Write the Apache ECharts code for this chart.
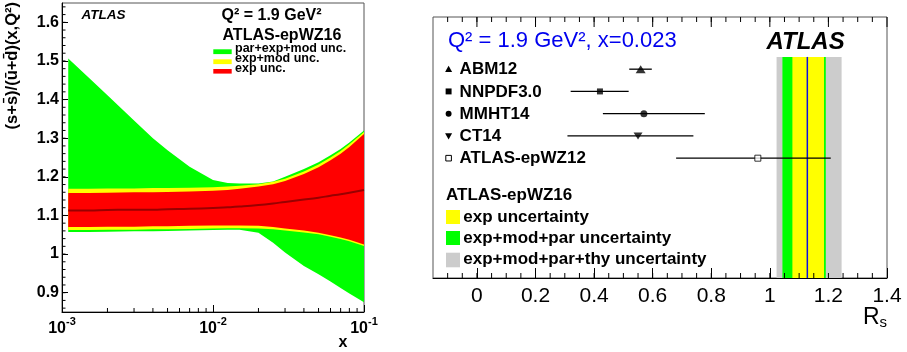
<!DOCTYPE html>
<html>
<head>
<meta charset="utf-8">
<script src="https://cdn.jsdelivr.net/npm/echarts@6/dist/echarts.min.js"></script>
<style>
  html, body { margin: 0; padding: 0; background: #fff; }
  #chart { width: 907px; height: 352px; }
</style>
</head>
<body>
<div id="chart"></div>
<script>
// ---- Left panel: (s+sbar)/(ubar+dbar) vs x at Q^2 = 1.9 GeV^2 ----
const xGrid    = [0.0011, 0.0015, 0.002, 0.003, 0.004, 0.005, 0.007, 0.01, 0.0125, 0.015, 0.02, 0.025, 0.03, 0.04, 0.05, 0.06, 0.07, 0.08, 0.1];
const central  = [1.113, 1.113, 1.114, 1.115, 1.115, 1.116, 1.117, 1.119, 1.121, 1.123, 1.127, 1.131, 1.135, 1.141, 1.146, 1.151, 1.155, 1.159, 1.166];
const expHi    = [1.158, 1.158, 1.159, 1.160, 1.160, 1.161, 1.162, 1.164, 1.166, 1.169, 1.175, 1.181, 1.189, 1.207, 1.225, 1.243, 1.260, 1.277, 1.311];
const expLo    = [1.070, 1.070, 1.071, 1.071, 1.072, 1.072, 1.073, 1.074, 1.074, 1.074, 1.073, 1.070, 1.066, 1.061, 1.055, 1.049, 1.043, 1.037, 1.025];
const expModHi = [1.169, 1.169, 1.170, 1.170, 1.171, 1.171, 1.172, 1.173, 1.175, 1.177, 1.181, 1.187, 1.195, 1.214, 1.232, 1.250, 1.267, 1.284, 1.316];
const expModLo = [1.062, 1.062, 1.063, 1.063, 1.064, 1.064, 1.065, 1.066, 1.067, 1.067, 1.066, 1.064, 1.061, 1.056, 1.051, 1.045, 1.039, 1.033, 1.021];
const fullHi   = [1.506, 1.457, 1.411, 1.346, 1.300, 1.269, 1.226, 1.192, 1.184, 1.183, 1.183, 1.188, 1.200, 1.220, 1.238, 1.256, 1.272, 1.289, 1.320];
const fullLo   = [1.057, 1.057, 1.058, 1.059, 1.059, 1.060, 1.061, 1.062, 1.063, 1.063, 1.055, 1.029, 1.004, 0.969, 0.948, 0.929, 0.912, 0.898, 0.875];

const leftYTicks = [0.9, 1, 1.1, 1.2, 1.3, 1.4, 1.5, 1.6];

// ---- Right panel: R_s at x = 0.023 ----
const pdfSets   = ['ABM12', 'NNPDF3.0', 'MMHT14', 'CT14', 'ATLAS-epWZ12'];
const rsCentral = [0.559, 0.420, 0.570, 0.550, 0.959];
const rsLow     = [0.520, 0.320, 0.430, 0.309, 0.680];
const rsHigh    = [0.597, 0.518, 0.778, 0.739, 1.208];

const epwz16Central   = 1.128;
const epwz16Exp       = [1.077, 1.185];
const epwz16ExpModPar = [1.043, 1.191];
const epwz16Total     = [1.023, 1.245];

const rightXTicks = [0, 0.2, 0.4, 0.6, 0.8, 1, 1.2, 1.4];

// ---- axis helpers ----
const FONT = '"Liberation Sans", Arial, Helvetica, sans-serif';
const LEFT_Y = [0.85, 1.65];
const RIGHT_X = [-0.15, 1.4];
const RIGHT_Y = [-2.345, 9.385];

const leftYMinor = [];
for (let k = 43; k <= 82; k++) leftYMinor.push(+(k * 0.02).toFixed(2));
const logMinor = [];
[0.001, 0.01].forEach(d => { for (let k = 2; k <= 9; k++) logMinor.push(+(k * d).toPrecision(3)); });
const rightXMinor = [];
for (let k = -2; k <= 27; k++) rightXMinor.push(+(k * 0.05).toFixed(2));

function band(hi, lo, color, z) {
  return {
    type: 'custom', xAxisIndex: 0, yAxisIndex: 0, z: z, silent: true,
    data: [[xGrid[0], central[0]]],
    renderItem: function (params, api) {
      const pts = [];
      for (let i = 0; i < xGrid.length; i++) pts.push(api.coord([xGrid[i], hi[i]]));
      for (let i = xGrid.length - 1; i >= 0; i--) pts.push(api.coord([xGrid[i], lo[i]]));
      return { type: 'polygon', shape: { points: pts }, style: { fill: color } };
    }
  };
}

function vband(range, color, z) {
  return {
    type: 'custom', xAxisIndex: 1, yAxisIndex: 1, z: z, silent: true,
    data: [[range[0], 0]],
    renderItem: function (params, api) {
      const a = api.coord([range[0], -0.55]);
      const b = api.coord([range[1], RIGHT_Y[1]]);
      return { type: 'rect', shape: { x: a[0], y: a[1], width: b[0] - a[0], height: b[1] - a[1] }, style: { fill: color } };
    }
  };
}

// short tick strokes placed through the axis scales
function tickLine(p, dx, dy) {
  return { type: 'line', shape: { x1: p[0], y1: p[1], x2: p[0] + dx, y2: p[1] + dy }, style: { stroke: '#000', lineWidth: 1 } };
}

function markerShape(i, cx, cy, s) {
  const h = s / 2;
  const black = { fill: '#000' };
  switch (i) {
    case 0: return { type: 'polygon', shape: { points: [[cx, cy - h], [cx - h, cy + h * 0.8], [cx + h, cy + h * 0.8]] }, style: black };
    case 1: return { type: 'rect', shape: { x: cx - h * 0.85, y: cy - h * 0.85, width: s * 0.85, height: s * 0.85 }, style: black };
    case 2: return { type: 'circle', shape: { cx: cx, cy: cy, r: h * 0.85 }, style: black };
    case 3: return { type: 'polygon', shape: { points: [[cx, cy + h], [cx - h, cy - h * 0.8], [cx + h, cy - h * 0.8]] }, style: black };
    default: return { type: 'rect', shape: { x: cx - h * 0.8, y: cy - h * 0.8, width: s * 0.8, height: s * 0.8 }, style: { fill: '#fff', stroke: '#000', lineWidth: 1 } };
  }
}

const plotSymbols = [
  { symbol: 'triangle', symbolSize: [10, 8], symbolRotate: 0, itemStyle: { color: '#000' } },
  { symbol: 'rect', symbolSize: 6, symbolRotate: 0, itemStyle: { color: '#000' } },
  { symbol: 'circle', symbolSize: 7, symbolRotate: 0, itemStyle: { color: '#000' } },
  { symbol: 'triangle', symbolSize: [9, 7], symbolRotate: 180, itemStyle: { color: '#000' } },
  { symbol: 'rect', symbolSize: 6, symbolRotate: 0, itemStyle: { color: '#fff', borderColor: '#000', borderWidth: 1 } }
];

function txt(x, y, text, font, extra) {
  return Object.assign({
    type: 'text', x: x, y: y, silent: true,
    style: { text: text, font: font, fill: '#000', align: 'left', verticalAlign: 'middle', textAlign: 'left', textVerticalAlign: 'middle' }
  }, extra || {});
}
function box(x, y, w, h, color) {
  return { type: 'rect', silent: true, shape: { x: x, y: y, width: w, height: h }, style: { fill: color } };
}

const chart = echarts.init(document.getElementById('chart'));
chart.setOption({
  animation: false,
  backgroundColor: '#fff',
  textStyle: { fontFamily: FONT },
  grid: [
    { left: 62, top: 3, width: 302, height: 309, show: true, borderColor: '#555', borderWidth: 1, backgroundColor: 'transparent' },
    { left: 433, top: 17, width: 454, height: 261, show: true, borderColor: '#555', borderWidth: 1, backgroundColor: 'transparent' }
  ],
  xAxis: [
    { // 0: log x, left panel
      gridIndex: 0, type: 'log', logBase: 10, min: 0.001, max: 0.1,
      axisLine: { onZero: false, lineStyle: { color: '#000', width: 1 } },
      axisTick: { inside: true, length: 7, lineStyle: { color: '#000' } },
      splitLine: { show: false }, minorTick: { show: false },
      axisLabel: {
        margin: 4, color: '#000',
        formatter: v => '{b|10}{s|' + Math.round(Math.log10(v)) + '}',
        rich: {
          b: { fontFamily: FONT, fontSize: 16, fontWeight: 'bold', color: '#000' },
          s: { fontFamily: FONT, fontSize: 11, fontWeight: 'bold', color: '#000', padding: [0, 0, 14, 0] }
        }
      }
    },
    { // 1: R_s axis
      gridIndex: 1, type: 'value', min: RIGHT_X[0], max: RIGHT_X[1], position: 'bottom',
      axisLine: { onZero: false, lineStyle: { color: '#000', width: 1 } },
      axisTick: { inside: true, length: 10, customValues: rightXTicks, lineStyle: { color: '#000' } },
      axisLabel: { customValues: rightXTicks, fontSize: 21, color: '#000', fontFamily: FONT, margin: 8 },
      splitLine: { show: false }
    }
  ],
  yAxis: [
    { // 0: ratio axis
      gridIndex: 0, type: 'value', min: LEFT_Y[0], max: LEFT_Y[1],
      axisLine: { show: true, onZero: false, lineStyle: { color: '#000', width: 1 } },
      axisTick: { show: true, inside: true, length: 6, customValues: leftYTicks, lineStyle: { color: '#000' } },
      axisLabel: { customValues: leftYTicks, fontSize: 16, fontWeight: 'bold', color: '#000', fontFamily: FONT, margin: 3 },
      splitLine: { show: false }
    },
    { // 1: row axis of the right panel
      gridIndex: 1, type: 'value', min: RIGHT_Y[0], max: RIGHT_Y[1], inverse: true, show: false,
      axisLine: { onZero: false },
      splitLine: { show: false }
    }
  ],
  series: [
    band(fullHi, fullLo, '#00ff00', 1),
    band(expModHi, expModLo, '#ffff00', 2),
    band(expHi, expLo, '#ff0000', 3),
    {
      type: 'line', xAxisIndex: 0, yAxisIndex: 0, z: 4, silent: true,
      data: xGrid.map((x, i) => [x, central[i]]),
      smooth: true, showSymbol: false, symbol: 'none',
      lineStyle: { color: '#990000', width: 2 }
    },
    { // minor ticks of the left panel (log x and ratio y)
      type: 'custom', xAxisIndex: 0, yAxisIndex: 0, z: 6, silent: true,
      data: [[0.01, 1]],
      renderItem: function (params, api) {
        const xs = logMinor.map(v => tickLine(api.coord([v, LEFT_Y[0]]), 0, -4));
        const ys = leftYMinor.map(v => tickLine(api.coord([0.001, v]), 3.5, 0));
        return { type: 'group', children: xs.concat(ys) };
      }
    },
    vband(epwz16Total, '#cccccc', 1),
    vband(epwz16ExpModPar, '#00ff00', 2),
    vband(epwz16Exp, '#ffff00', 3),
    {
      type: 'custom', xAxisIndex: 1, yAxisIndex: 1, z: 4, silent: true,
      data: [[epwz16Central, 0]],
      renderItem: function (params, api) {
        const a = api.coord([epwz16Central, -0.55]);
        const b = api.coord([epwz16Central, RIGHT_Y[1]]);
        return { type: 'line', shape: { x1: a[0], y1: a[1], x2: b[0], y2: b[1] }, style: { stroke: '#1010e0', lineWidth: 1.5 } };
      }
    },
    { // top major/minor ticks and bottom minor ticks of the R_s axis
      type: 'custom', xAxisIndex: 1, yAxisIndex: 1, z: 7, silent: true,
      data: [[0, 0]],
      renderItem: function (params, api) {
        const kids = [];
        rightXMinor.forEach(v => {
          kids.push(tickLine(api.coord([v, RIGHT_Y[1]]), 0, -5));
          kids.push(tickLine(api.coord([v, RIGHT_Y[0]]), 0, 5));
        });
        rightXTicks.forEach(v => kids.push(tickLine(api.coord([v, RIGHT_Y[0]]), 0, 10)));
        return { type: 'group', children: kids };
      }
    },
    { // horizontal uncertainty bars
      type: 'custom', xAxisIndex: 1, yAxisIndex: 1, z: 5, silent: true,
      data: pdfSets.map((n, i) => [rsCentral[i], i, rsLow[i], rsHigh[i]]),
      renderItem: function (params, api) {
        const a = api.coord([api.value(2), api.value(1)]);
        const b = api.coord([api.value(3), api.value(1)]);
        return { type: 'line', shape: { x1: a[0], y1: a[1], x2: b[0], y2: b[1] }, style: { stroke: '#000', lineWidth: 1.3 } };
      }
    },
    {
      type: 'scatter', xAxisIndex: 1, yAxisIndex: 1, z: 6, silent: true,
      data: pdfSets.map((n, i) => Object.assign({ value: [rsCentral[i], i] }, plotSymbols[i]))
    },
    { // row labels with their marker keys
      type: 'custom', xAxisIndex: 1, yAxisIndex: 1, z: 6, silent: true,
      data: pdfSets.map((n, i) => [RIGHT_X[0], i]),
      renderItem: function (params, api) {
        const i = api.value(1);
        const p = api.coord([RIGHT_X[0], i]);
        return {
          type: 'group',
          children: [
            markerShape(i, p[0] + 15.6, p[1], 7),
            { type: 'text', x: p[0] + 26.6, y: p[1] + 0.5,
              style: { text: pdfSets[i], font: 'bold 17px ' + FONT, fill: '#000', align: 'left', verticalAlign: 'middle', textAlign: 'left', textVerticalAlign: 'middle' } }
          ]
        };
      }
    }
  ],
  graphic: [
    // left panel texts
    txt(12, 2, '(s+s\u0304)/(u\u0304+d\u0304)(x,Q\u00b2)', 'bold 16.5px ' + FONT, {
      rotation: Math.PI / 2,
      style: { text: '(s+s\u0304)/(u\u0304+d\u0304)(x,Q\u00b2)', font: 'bold 16.5px ' + FONT, fill: '#000', align: 'right', verticalAlign: 'middle', textAlign: 'right', textVerticalAlign: 'middle' }
    }),
    txt(343, 343, 'x', 'bold 16px ' + FONT, { style: { text: 'x', font: 'bold 16px ' + FONT, fill: '#000', align: 'center', verticalAlign: 'middle', textAlign: 'center', textVerticalAlign: 'middle' } }),
    txt(81.5, 15.5, 'ATLAS', 'italic bold 13.5px ' + FONT),
    txt(221.5, 16, 'Q\u00b2 = 1.9 GeV\u00b2', 'bold 16px ' + FONT),
    txt(222.5, 35.5, 'ATLAS-epWZ16', 'bold 16px ' + FONT),
    box(213.3, 49.3, 18.4, 4.8, '#00ff00'),
    box(213.3, 59.3, 18.4, 4.8, '#ffff00'),
    box(213.3, 69, 18.4, 4.6, '#ff0000'),
    txt(235, 48.5, 'par+exp+mod unc.', 'bold 12.5px ' + FONT),
    txt(235, 58.5, 'exp+mod unc.', 'bold 12.5px ' + FONT),
    txt(235, 68.5, 'exp unc.', 'bold 12.5px ' + FONT),
    // right panel texts
    txt(448, 41, 'Q\u00b2 = 1.9 GeV\u00b2, x=0.023', '22px ' + FONT, { style: { text: 'Q\u00b2 = 1.9 GeV\u00b2, x=0.023', font: '22px ' + FONT, fill: '#0000ee', align: 'left', verticalAlign: 'middle', textAlign: 'left', textVerticalAlign: 'middle' } }),
    txt(766.5, 42, 'ATLAS', 'italic bold 24px ' + FONT),
    txt(446, 195.5, 'ATLAS-epWZ16', 'bold 17px ' + FONT),
    box(446, 210, 14, 14, '#ffff00'),
    box(446, 231, 14, 14, '#00ff00'),
    box(446, 252.7, 14, 14.6, '#cccccc'),
    txt(463.3, 217, 'exp uncertainty', 'bold 17px ' + FONT),
    txt(463.3, 238, 'exp+mod+par uncertainty', 'bold 17px ' + FONT),
    txt(463.3, 259.5, 'exp+mod+par+thy uncertainty', 'bold 17px ' + FONT),
    {
      type: 'text', x: 863, y: 318, silent: true,
      style: {
        text: '{r|R}{s|s}', align: 'left', verticalAlign: 'middle', textAlign: 'left', textVerticalAlign: 'middle',
        rich: {
          r: { font: '23px ' + FONT, fill: '#000' },
          s: { font: '15px ' + FONT, fill: '#000', padding: [9, 0, 0, 0] }
        }
      }
    }
  ]
});
</script>
</body>
</html>
